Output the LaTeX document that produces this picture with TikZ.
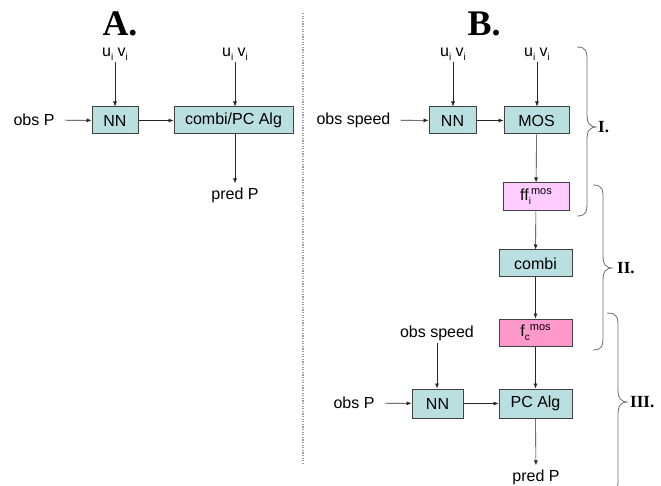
\documentclass[tikz,border=0pt]{standalone}
\usepackage{fontspec}
\setmainfont{Liberation Sans}
\newfontfamily\serifb{Liberation Serif}
\usetikzlibrary{arrows.meta}
\definecolor{boxteal}{HTML}{B9DFE1}
\definecolor{boxpinkl}{HTML}{FFCCFF}
\definecolor{boxpink}{HTML}{FF99CC}
\definecolor{boxline}{HTML}{404040}
\definecolor{bracegray}{HTML}{6E6E6E}
\newcommand{\mysub}[1]{\raisebox{-4pt}{\fontsize{10}{10}\selectfont #1}}
\newcommand{\mysup}[1]{\raisebox{6pt}{\fontsize{11}{11}\selectfont #1}}
\begin{document}
\begin{tikzpicture}[x=1pt,y=-1pt,
  blk/.style={draw=boxline,line width=1pt,fill=boxteal,font=\fontsize{16}{18}\selectfont,inner sep=0pt,minimum height=27pt},
  lbl/.style={font=\fontsize{16}{18}\selectfont,inner sep=2pt},
  conn/.style={draw=black!85,line width=0.6pt,-{Latex[length=5pt,width=4pt]}},
  ttl/.style={font=\serifb\bfseries\fontsize{36}{40}\selectfont,inner sep=0pt},
  brl/.style={font=\serifb\bfseries\fontsize{17}{20}\selectfont,inner sep=0pt,anchor=west},
  brc/.style={draw=bracegray,line width=0.8pt}]
\useasboundingbox (0,0) rectangle (661,486);
% divider
\draw[gray!75,line width=1.3pt,dash pattern=on 1.3pt off 1.3pt] (303,13) -- (303,465);
% Panel A
\node[ttl] (tA) at (120,24) {A.};
\node[lbl] (uvA1) at (115,54) {u\mysub{i} v\mysub{i}};
\node[lbl] (uvA2) at (235,54) {u\mysub{i} v\mysub{i}};
\node[blk,minimum width=46pt] (nnA) at (115,120.5) {NN};
\node[blk,minimum width=119pt] (combiA) at (233.5,120.5) {combi/PC Alg};
\node[lbl] (obsPA) at (34,120) {obs P};
\node[lbl,inner sep=4pt] (predPA) at (235,195) {pred P};
\draw[conn,shorten <=8pt] (obsPA) -- (nnA);
\draw[conn] (uvA1) -- (nnA);
\draw[conn] (uvA2) -- (uvA2 |- combiA.north);
\draw[conn] (nnA) -- (combiA);
\draw[conn] (combiA.south -| predPA) -- (predPA);
% Panel B
\node[ttl] (tB) at (484,24) {B.};
\node[lbl] (uvB1) at (453,54) {u\mysub{i} v\mysub{i}};
\node[lbl] (uvB2) at (537,54) {u\mysub{i} v\mysub{i}};
\node[blk,minimum width=47pt] (nnB1) at (452.5,120.5) {NN};
\node[blk,minimum width=65pt] (mos) at (536.5,120.5) {MOS};
\node[lbl] (obsSB1) at (353.5,120) {obs speed};
\node[blk,fill=boxpinkl,minimum width=66pt,minimum height=28pt] (ff) at (536,197) {ff\mysub{i}\mysup{mos}};
\node[blk,minimum width=73pt] (combiB) at (535.5,263.5) {combi};
\node[blk,fill=boxpink,minimum width=73pt] (fc) at (535.5,332.5) {f\mysub{c}\mysup{mos}};
\node[lbl] (obsSB2) at (437,333) {obs speed};
\node[blk,minimum width=51pt,minimum height=29pt] (nnB2) at (437.5,403.5) {NN};
\node[blk,minimum width=73pt,minimum height=29pt] (pcalg) at (535.5,403.5) {PC Alg};
\node[lbl] (obsPB) at (354,403) {obs P};
\node[lbl,inner sep=4pt] (predPB) at (536,477) {pred P};
\draw[conn,shorten <=8pt] (obsSB1) -- (nnB1);
\draw[conn] (uvB1) -- (uvB1 |- nnB1.north);
\draw[conn] (uvB2) -- (uvB2 |- mos.north);
\draw[conn] (nnB1) -- (mos);
\draw[conn] (mos) -- (ff);
\draw[conn] (ff) -- (combiB);
\draw[conn] (combiB) -- (fc);
\draw[conn] (fc) -- (pcalg);
\draw[conn] (obsSB2) -- (obsSB2 |- nnB2.north);
\draw[conn,shorten <=8pt] (obsPB) -- (nnB2);
\draw[conn] (nnB2) -- (pcalg);
\draw[conn] (pcalg) -- (predPB);
% braces
\draw[brc] (577,47) .. controls (587,47) and (587,52) .. (587,62) -- (587,114)
  .. controls (587,124) and (590,127) .. (597,127)
  .. controls (590,127) and (587,130) .. (587,140) -- (587,201)
  .. controls (587,211) and (587,216) .. (577,216);
\node[brl] (bI) at (598,127) {I.};
\draw[brc] (593,185) .. controls (603,185) and (603,190) .. (603,200) -- (603,255)
  .. controls (603,265) and (606,268) .. (613,268)
  .. controls (606,268) and (603,271) .. (603,281) -- (603,335)
  .. controls (603,345) and (603,350) .. (593,350);
\node[brl] (bII) at (617,268) {II.};
\draw[brc] (607,313) .. controls (618,313) and (618,318) .. (618,328) -- (618,389)
  .. controls (618,399) and (621,402) .. (628,402)
  .. controls (621,402) and (618,405) .. (618,415) -- (618,478)
  .. controls (618,488) and (618,493) .. (607,493);
\node[brl] (bIII) at (630,402) {III.};
\end{tikzpicture}
\end{document}
